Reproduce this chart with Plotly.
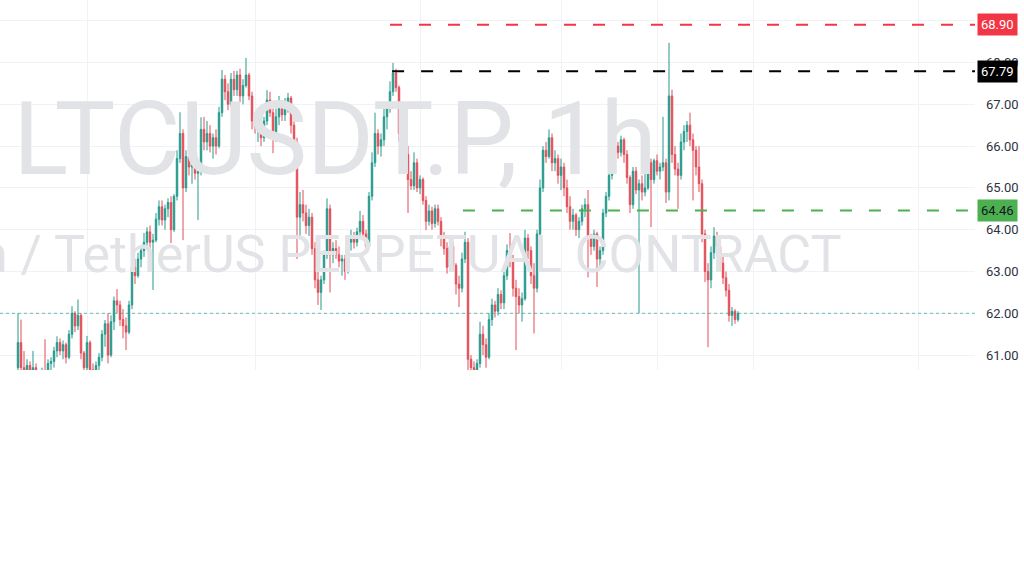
import plotly.graph_objects as go

# ---------------- data ----------------
symbol_title = "LTCUSDT.P, 1h"
symbol_desc = "Litecoin / TetherUS PERPETUAL CONTRACT"

bars = list(range(241))

opens = [60.7, 61.3, 60.7, 60.6, 60.75, 60.55, 60.7, 60.5, 60.4, 60.6,
         60.55, 60.8, 60.85, 61.1, 61.3, 61.1, 61.25, 60.95, 61.5, 62.0,
         61.7, 61.95, 61.05, 60.7, 61.3, 60.65, 60.6, 60.75, 60.95, 61.5,
         61.75, 61.0, 61.8, 62.3, 62.2, 61.85, 61.7, 61.55, 62.2, 63.1,
         62.9, 63.3, 63.5, 63.7, 63.95, 63.7, 63.75, 64.25, 64.55, 64.23,
         64.5, 64.65, 64.0, 64.8, 65.7, 66.3, 65.0, 65.75, 65.5, 65.9,
         65.35, 65.4, 66.4, 66.1, 66.3, 66.0, 66.2, 66.0, 66.8, 67.6,
         67.3, 67.0, 67.6, 67.35, 67.7, 67.2, 67.45, 67.7, 67.2, 66.6,
         66.45, 66.5, 66.2, 66.6, 67.1, 66.8, 66.2, 66.7, 66.9, 66.75,
         67.0, 67.15, 66.5, 66.1, 64.3, 64.6, 64.4, 64.1, 64.3, 63.55,
         62.8, 62.5, 62.8, 63.4, 64.5, 63.4, 63.55, 63.4, 63.25, 63.3,
         63.0, 63.7, 63.85, 63.7, 63.95, 64.2, 63.9, 63.6, 64.8, 65.6,
         66.3, 66.0, 66.15, 66.7, 66.9, 67.3, 67.75, 67.4, 66.3, 66.6,
         65.8, 65.2, 65.05, 65.6, 65.0, 65.2, 64.7, 64.2, 64.45, 64.15,
         64.5, 64.2, 63.8, 63.55, 63.1, 63.6, 63.15, 62.7, 62.6, 63.3,
         63.7, 60.9, 60.7, 60.6, 60.8, 61.5, 61.25, 60.95, 61.85, 62.2,
         62.05, 62.45, 62.25, 62.9, 63.5, 63.3, 62.6, 62.4, 62.2, 62.35,
         63.8, 63.5, 62.9, 62.6, 63.9, 65.0, 65.9, 65.75, 66.2, 65.6,
         65.7, 65.3, 65.5, 65.0, 64.55, 64.2, 64.35, 64.0, 64.2, 64.5,
         64.6, 63.8, 63.6, 63.9, 63.3, 63.5, 64.4, 64.8, 65.3, 65.8,
         66.0, 65.85, 66.15, 65.8, 65.25, 64.6, 65.4, 64.95, 65.1, 64.9,
         65.0, 65.6, 65.2, 65.65, 65.4, 65.5, 65.6, 64.9, 67.2, 65.8,
         65.45, 65.3, 66.1, 66.35, 66.5, 66.15, 65.9, 65.5, 65.1, 63.9,
         63.0, 62.8, 63.45, 63.85, 63.6, 63.2, 62.85, 62.55, 61.95, 62.05,
         61.85]

highs = [62.0, 61.85, 61.1, 60.9, 60.85, 61.1, 60.8, 60.6, 60.7, 61.38,
         60.9, 60.95, 61.2, 61.45, 61.4, 61.35, 61.3, 61.6, 62.17, 62.05,
         62.33, 62.0, 61.1, 61.46, 61.35, 60.8, 60.85, 61.05, 61.6, 61.84,
         62.0, 61.95, 62.4, 62.58, 62.3, 62.1, 61.9, 62.3, 63.34, 63.3,
         63.45, 63.6, 63.92, 64.06, 64.1, 63.9, 64.4, 64.7, 64.7, 64.6,
         64.75, 64.8, 64.85, 65.9, 66.81, 66.4, 65.9, 66.0, 66.1, 66.0,
         65.6, 66.69, 66.7, 66.6, 66.5, 66.3, 66.4, 66.94, 67.82, 67.7,
         67.5, 67.75, 67.8, 67.8, 67.85, 67.6, 68.11, 67.75, 67.3, 66.8,
         66.7, 66.6, 66.7, 67.34, 67.3, 66.9, 66.9, 67.2, 67.1, 67.15,
         67.27, 67.2, 66.6, 66.2, 64.9, 64.95, 64.6, 64.5, 64.4, 63.7,
         63.1, 62.9, 63.5, 64.75, 64.6, 63.7, 63.75, 63.6, 63.4, 63.4,
         63.85, 64.0, 63.95, 64.05, 64.45, 64.35, 64.0, 64.9, 65.85, 66.8,
         66.4, 66.3, 66.95, 67.0, 67.55, 67.99, 67.85, 67.45, 66.85, 66.7,
         66.0, 65.4, 65.85, 65.7, 65.3, 65.25, 64.8, 64.6, 64.55, 64.6,
         64.6, 64.3, 63.95, 63.7, 63.75, 63.7, 63.2, 62.9, 63.45, 63.95,
         63.8, 61.0, 60.85, 60.9, 61.8, 61.7, 61.4, 62.0, 62.35, 62.3,
         62.6, 62.55, 63.0, 63.65, 63.92, 63.4, 62.8, 62.6, 62.5, 64.0,
         63.9, 63.6, 63.2, 64.0, 65.2, 66.0, 66.1, 66.4, 66.3, 65.9,
         65.8, 65.7, 65.6, 65.2, 64.8, 64.5, 64.4, 64.3, 64.6, 64.75,
         64.95, 63.9, 64.0, 63.95, 63.6, 64.5, 64.9, 65.4, 65.9, 66.22,
         66.1, 66.25, 66.2, 65.9, 65.3, 65.5, 65.5, 65.2, 65.3, 65.75,
         65.7, 65.7, 65.7, 65.8, 65.6, 66.7, 65.7, 68.47, 67.35, 66.0,
         65.6, 66.3, 66.5, 66.6, 66.8, 66.3, 66.0, 66.0, 65.2, 64.0,
         63.2, 63.6, 64.06, 63.95, 63.7, 63.4, 63.0, 62.7, 62.15, 62.1,
         62.05]

lows = [60.5, 60.5, 60.45, 60.4, 60.4, 60.45, 60.4, 60.3, 60.3, 60.5,
        60.45, 60.6, 60.7, 60.95, 61.0, 60.9, 60.8, 60.9, 61.4, 61.55,
        61.6, 60.9, 60.55, 60.6, 60.5, 60.4, 60.5, 60.6, 60.85, 61.2,
        60.8, 60.95, 61.6, 62.0, 61.7, 61.4, 61.12, 61.5, 62.1, 62.7,
        62.85, 63.1, 63.35, 63.55, 63.5, 62.56, 63.7, 64.1, 64.1, 64.0,
        64.3, 63.68, 63.95, 64.7, 65.6, 63.75, 64.9, 65.3, 65.1, 65.2,
        64.23, 65.3, 65.9, 65.9, 65.85, 65.7, 65.8, 65.95, 66.7, 67.1,
        66.86, 66.95, 67.2, 67.2, 67.05, 67.0, 67.4, 67.1, 66.4, 66.3,
        66.1, 66.0, 66.1, 66.5, 66.7, 65.83, 66.1, 66.5, 66.6, 66.6,
        66.8, 66.3, 65.9, 63.3, 63.8, 64.2, 63.9, 63.85, 63.4, 62.6,
        62.2, 62.08, 62.7, 63.3, 62.5, 63.2, 63.3, 63.1, 62.9, 62.8,
        62.95, 63.5, 63.55, 63.6, 63.8, 63.8, 63.44, 63.55, 64.7, 65.5,
        65.8, 65.75, 66.0, 66.4, 66.8, 67.2, 67.3, 66.1, 65.9, 65.6,
        64.4, 64.95, 64.95, 64.9, 64.85, 64.6, 63.99, 64.1, 64.0, 64.05,
        64.1, 63.6, 63.4, 62.95, 63.0, 63.0, 62.45, 62.15, 62.5, 63.2,
        60.4, 60.5, 60.5, 60.55, 60.7, 61.0, 60.7, 60.9, 61.7, 61.9,
        61.95, 62.1, 62.1, 62.8, 63.1, 62.4, 61.12, 62.0, 61.8, 62.3,
        63.3, 62.7, 61.52, 62.5, 63.8, 64.9, 65.6, 65.7, 65.4, 65.4,
        65.1, 64.95, 64.8, 64.4, 64.0, 64.0, 63.85, 63.8, 64.1, 64.3,
        62.86, 63.4, 63.5, 62.63, 63.1, 63.4, 64.3, 64.7, 65.2, 65.6,
        65.7, 65.75, 65.6, 65.1, 64.4, 64.5, 64.85, 62.0, 64.7, 64.8,
        64.95, 64.06, 65.1, 65.3, 65.2, 65.4, 64.64, 64.7, 65.6, 65.3,
        64.5, 65.2, 65.9, 66.1, 66.0, 64.7, 65.3, 64.9, 63.7, 62.75,
        61.19, 62.6, 63.3, 63.4, 63.0, 62.7, 62.4, 61.8, 61.7, 61.75,
        61.8]

closes = [61.3, 60.7, 60.6, 60.75, 60.55, 60.7, 60.5, 60.4, 60.6, 60.55,
          60.8, 60.85, 61.1, 61.3, 61.1, 61.25, 60.95, 61.5, 62.0, 61.7,
          61.95, 61.05, 60.7, 61.3, 60.65, 60.6, 60.75, 60.95, 61.5, 61.75,
          61.0, 61.8, 62.3, 62.2, 61.85, 61.7, 61.55, 62.2, 63.1, 62.9,
          63.3, 63.5, 63.7, 63.95, 63.7, 63.75, 64.25, 64.55, 64.23, 64.5,
          64.65, 64.0, 64.8, 65.7, 66.3, 65.0, 65.75, 65.5, 65.9, 65.35,
          65.4, 66.4, 66.1, 66.3, 66.0, 66.2, 66.0, 66.8, 67.6, 67.3,
          67.0, 67.6, 67.35, 67.7, 67.2, 67.45, 67.7, 67.2, 66.6, 66.45,
          66.5, 66.2, 66.6, 67.1, 66.8, 66.2, 66.7, 66.9, 66.75, 67.0,
          67.15, 66.5, 66.1, 64.3, 64.6, 64.4, 64.1, 64.3, 63.55, 62.8,
          62.5, 62.8, 63.4, 64.5, 63.4, 63.55, 63.4, 63.25, 63.3, 63.0,
          63.7, 63.85, 63.7, 63.95, 64.2, 63.9, 63.6, 64.8, 65.6, 66.3,
          66.0, 66.15, 66.7, 66.9, 67.3, 67.75, 67.4, 66.3, 66.6, 65.8,
          65.2, 65.05, 65.6, 65.0, 65.2, 64.7, 64.2, 64.45, 64.15, 64.5,
          64.2, 63.8, 63.55, 63.1, 63.6, 63.15, 62.7, 62.6, 63.3, 63.7,
          60.9, 60.7, 60.6, 60.8, 61.5, 61.25, 60.95, 61.85, 62.2, 62.05,
          62.45, 62.25, 62.9, 63.5, 63.3, 62.6, 62.4, 62.2, 62.35, 63.8,
          63.5, 62.9, 62.6, 63.9, 65.0, 65.9, 65.75, 66.2, 65.6, 65.7,
          65.3, 65.5, 65.0, 64.55, 64.2, 64.35, 64.0, 64.2, 64.5, 64.6,
          63.8, 63.6, 63.9, 63.3, 63.5, 64.4, 64.8, 65.3, 65.8, 66.0,
          65.85, 66.15, 65.8, 65.25, 64.6, 65.4, 64.95, 65.1, 64.9, 65.0,
          65.6, 65.2, 65.65, 65.4, 65.5, 65.6, 64.9, 67.2, 65.8, 65.45,
          65.3, 66.1, 66.35, 66.5, 66.15, 65.9, 65.5, 65.1, 63.9, 63.0,
          62.8, 63.45, 63.85, 63.6, 63.2, 62.85, 62.55, 61.95, 62.05, 61.85,
          62.0]

price_ticks = [61, 62, 63, 64, 65, 66, 67, 68, 69]
price_tick_labels = ["61.00", "62.00", "63.00", "64.00", "65.00",
                     "66.00", "67.00", "68.00", ""]
time_grid = [23.33, 79, 134.33, 181, 213.33, 245, 300]

level_values = [68.90, 67.79, 64.46]
level_labels = ["68.90", "67.79", "64.46"]
level_start_bar = [124, 124.7, 148.3]
last_price_level = 62.00

# ---------------- style ----------------
UP = "#25998c"
DOWN = "#e34d58"
level_colors = ["#f23645", "#000000", "#4caf50"]
level_text_colors = ["#ffffff", "#ffffff", "#131722"]
X_RANGE = [-6, 319]
Y_RANGE = [60.644, 69.495]
WM_COLOR = "#e2e3e6"

fig = go.Figure()

# watermark (drawn beneath the candles)
fig.add_trace(go.Scatter(
    x=[105.67], y=[65.94], mode="text", text=[symbol_title],
    textposition="middle center",
    textfont=dict(family="Roboto", size=102, color=WM_COLOR),
    hoverinfo="skip", showlegend=False, cliponaxis=True))
fig.add_trace(go.Scatter(
    x=[274.5], y=[63.30], mode="text", text=[symbol_desc],
    textposition="middle left",
    textfont=dict(family="Roboto", size=52, color=WM_COLOR),
    hoverinfo="skip", showlegend=False, cliponaxis=True))

fig.add_trace(go.Candlestick(
    x=bars, open=opens, high=highs, low=lows, close=closes,
    increasing=dict(line=dict(color=UP, width=1), fillcolor=UP),
    decreasing=dict(line=dict(color=DOWN, width=1), fillcolor=DOWN),
    whiskerwidth=0, showlegend=False))

shapes = []
annotations = []
for lv, lab, x0, c, tc in zip(level_values, level_labels, level_start_bar,
                              level_colors, level_text_colors):
    shapes.append(dict(type="line", xref="x", yref="y", x0=x0, x1=X_RANGE[1],
                       y0=lv, y1=lv,
                       line=dict(color=c, width=2, dash="12px,17px")))
    annotations.append(dict(xref="paper", yref="y", x=1, y=lv, text=lab,
                            xanchor="left", yanchor="middle", xshift=2,
                            showarrow=False, bgcolor=c, borderpad=3,
                            font=dict(family="Roboto", size=13, color=tc)))

shapes.append(dict(type="line", xref="paper", yref="y", x0=0, x1=1,
                   y0=last_price_level, y1=last_price_level,
                   line=dict(color="rgba(38,166,154,0.7)", width=1, dash="dot")))

fig.update_layout(
    width=1024, height=569,
    margin=dict(l=0, r=49, t=0, b=199),
    paper_bgcolor="white", plot_bgcolor="white",
    showlegend=False,
    shapes=shapes, annotations=annotations,
    xaxis=dict(range=X_RANGE, rangeslider=dict(visible=False),
               tickvals=time_grid, showticklabels=False, ticks="",
               showgrid=True, gridcolor="#f0f2f5", gridwidth=1,
               zeroline=False, showline=False),
    yaxis=dict(range=Y_RANGE, side="right", tickvals=price_ticks,
               ticktext=price_tick_labels, showgrid=True,
               gridcolor="#f0f2f5", gridwidth=1, zeroline=False,
               showline=False, ticks="", ticklabelstandoff=10,
               tickfont=dict(family="Roboto", size=13, color="#2f3241")),
    font=dict(family="Roboto"),
)

fig.write_html(
    "out.html",
    config={"displayModeBar": False},
    post_script="document.body.style.margin='0';"
                "document.body.style.overflow='hidden';",
)
